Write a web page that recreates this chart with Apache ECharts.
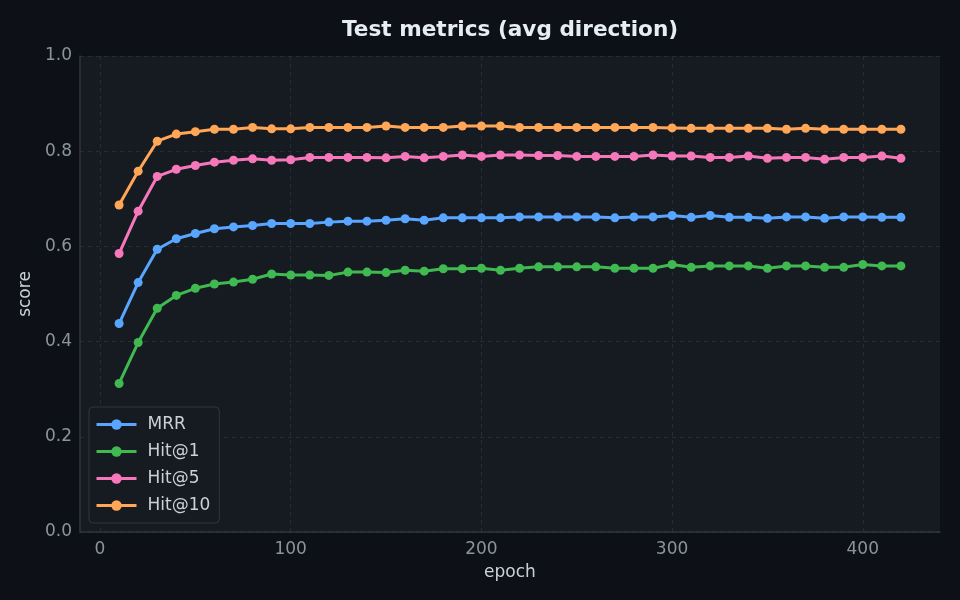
<!DOCTYPE html>
<html>
<head>
<meta charset="utf-8">
<script src="https://cdn.jsdelivr.net/npm/echarts@6/dist/echarts.min.js"></script>
<style>
  html, body { margin: 0; padding: 0; background: #0d1117; }
  #main { width: 960px; height: 600px; }
</style>
</head>
<body>
<div id="main"></div>
<script>
var epochs = [10, 20, 30, 40, 50, 60, 70, 80, 90, 100, 110, 120, 130, 140,
  150, 160, 170, 180, 190, 200, 210, 220, 230, 240, 250, 260, 270, 280, 290,
  300, 310, 320, 330, 340, 350, 360, 370, 380, 390, 400, 410, 420];

var mrr = [0.438, 0.524, 0.594, 0.616, 0.627, 0.637, 0.641, 0.644, 0.648, 0.648, 0.648, 0.651, 0.653, 0.653,
  0.655, 0.658, 0.655, 0.660, 0.660, 0.660, 0.660, 0.662, 0.662, 0.662, 0.662, 0.662, 0.660, 0.662, 0.662,
  0.665, 0.661, 0.665, 0.661, 0.661, 0.659, 0.662, 0.662, 0.659, 0.662, 0.662, 0.661, 0.661];

var hit1 = [0.312, 0.398, 0.470, 0.497, 0.512, 0.521, 0.525, 0.531, 0.542, 0.540, 0.540, 0.539, 0.546, 0.546,
  0.545, 0.550, 0.548, 0.553, 0.553, 0.554, 0.550, 0.554, 0.557, 0.557, 0.557, 0.557, 0.554, 0.554, 0.554,
  0.562, 0.556, 0.559, 0.559, 0.559, 0.554, 0.559, 0.559, 0.556, 0.556, 0.562, 0.559, 0.559];

var hit5 = [0.585, 0.674, 0.747, 0.762, 0.770, 0.777, 0.781, 0.784, 0.781, 0.782, 0.787, 0.787, 0.787, 0.787,
  0.786, 0.789, 0.786, 0.789, 0.792, 0.789, 0.792, 0.792, 0.791, 0.791, 0.789, 0.789, 0.789, 0.789, 0.792,
  0.790, 0.790, 0.787, 0.787, 0.790, 0.785, 0.787, 0.787, 0.783, 0.787, 0.787, 0.790, 0.785];

var hit10 = [0.687, 0.758, 0.821, 0.836, 0.841, 0.846, 0.846, 0.850, 0.847, 0.847, 0.850, 0.850, 0.850, 0.850,
  0.853, 0.850, 0.850, 0.850, 0.853, 0.853, 0.853, 0.850, 0.850, 0.850, 0.850, 0.850, 0.850, 0.850, 0.850,
  0.849, 0.848, 0.848, 0.848, 0.848, 0.848, 0.846, 0.848, 0.846, 0.846, 0.846, 0.846, 0.846];

var xTicks = [0, 100, 200, 300, 400];
var seriesNames = ['MRR', 'Hit@1', 'Hit@5', 'Hit@10'];
var seriesColors = ['#58a6ff', '#3fb950', '#f778ba', '#ffa657'];
var seriesValues = [mrr, hit1, hit5, hit10];

var font = 'DejaVu Sans';

function pairs(vals) {
  var out = [];
  for (var i = 0; i < epochs.length; i++) out.push([epochs[i], vals[i]]);
  return out;
}

var series = [];
for (var s = 0; s < seriesNames.length; s++) {
  series.push({
    name: seriesNames[s],
    type: 'line',
    data: pairs(seriesValues[s]),
    symbol: 'circle',
    symbolSize: 9,
    showSymbol: true,
    lineStyle: { width: 3, color: seriesColors[s] },
    itemStyle: { color: seriesColors[s] },
    emphasis: { disabled: true },
    animation: false
  });
}

var myChart = echarts.init(document.getElementById('main'));
var option = {
  backgroundColor: '#0d1117',
  textStyle: { fontFamily: font },
  title: {
    text: 'Test metrics (avg direction)',
    left: 337,
    top: 14,
    textStyle: { color: '#e6edf3', fontSize: 21.6, fontWeight: 'bold', fontFamily: font }
  },
  legend: {
    orient: 'vertical',
    left: 89,
    top: 407,
    padding: [9, 9, 9, 6],
    itemWidth: 40,
    itemHeight: 13,
    itemGap: 10,
    backgroundColor: '#161b22',
    borderColor: '#30363d',
    borderWidth: 1,
    borderRadius: 4,
    lineStyle: { width: 3 },
    textStyle: { color: '#c9d1d9', fontSize: 17, fontFamily: font, padding: [0, 0, 0, 6] },
    data: seriesNames
  },
  grid: {
    left: 80,
    right: 20,
    top: 56,
    bottom: 68,
    show: true,
    backgroundColor: '#161b22',
    borderWidth: 0
  },
  xAxis: {
    type: 'value',
    min: -10.5,
    max: 440.5,
    name: 'epoch',
    nameLocation: 'middle',
    nameGap: 32,
    nameTextStyle: { color: '#c9d1d9', fontSize: 17, fontFamily: font },
    axisLine: { show: true, onZero: false, lineStyle: { color: '#30363d', width: 1.5 } },
    axisTick: { show: false, customValues: xTicks },
    axisLabel: { customValues: xTicks, color: '#8b949e', fontSize: 17, margin: 9, fontFamily: font },
    splitLine: { show: true, lineStyle: { color: '#262c36', type: [4, 4], width: 1 } }
  },
  yAxis: {
    type: 'value',
    min: 0,
    max: 1,
    interval: 0.2,
    name: 'score',
    nameLocation: 'middle',
    nameGap: 43,
    nameTextStyle: { color: '#c9d1d9', fontSize: 17, fontFamily: font },
    axisLine: { show: true, onZero: false, lineStyle: { color: '#30363d', width: 1.5 } },
    axisTick: { show: false },
    axisLabel: {
      color: '#8b949e', fontSize: 17, margin: 8, fontFamily: font,
      formatter: function (v) { return v.toFixed(1); }
    },
    splitLine: { show: true, lineStyle: { color: '#262c36', type: [4, 4], width: 1 } }
  },
  series: series
};
myChart.setOption(option);
</script>
</body>
</html>
